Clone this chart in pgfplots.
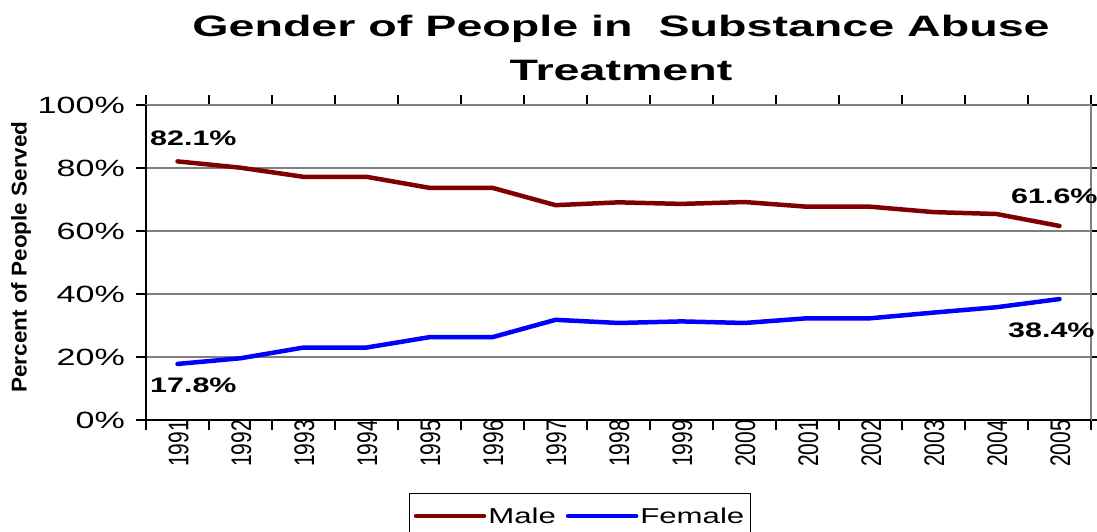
\documentclass[border=0pt]{standalone}
\usepackage{fontspec}
\usepackage{graphicx}
\usepackage{pgfplots}
\pgfplotsset{compat=1.18}
\setmainfont{Liberation Sans}[FakeStretch=1.45]
\newfontfamily\titlefont{Liberation Sans}[FakeStretch=1.58]
\newfontfamily\plainfont{Liberation Sans}
\definecolor{maleC}{HTML}{800000}
\definecolor{femaleC}{HTML}{0000FF}
\newcommand{\yr}[1]{\scalebox{1}[1.35]{#1}}
\begin{document}
\begin{tikzpicture}[x=1pt,y=1pt]
\useasboundingbox (0,0) rectangle (1097,531);
\node[anchor=base, inner sep=0] at (621,494) {\titlefont\bfseries\fontsize{29.5}{30}\selectfont Gender of People in\ \ Substance Abuse};
\node[anchor=base, inner sep=0] at (621,450) {\titlefont\bfseries\fontsize{29.5}{30}\selectfont Treatment};
\node[rotate=90, inner sep=0] at (21,274) {\scalebox{1}[0.95]{\plainfont\bfseries\fontsize{22.5}{25}\selectfont Percent of People Served}};
\begin{axis}[
  at={(146pt,111pt)}, anchor=south west,
  scale only axis, width=945pt, height=315pt,
  xmin=1990.5, xmax=2005.5, ymin=0, ymax=100,
  clip=false,
  tick align=outside,
  major tick length=10pt, minor tick length=10pt,
  xtick={1990.5,1991.5,...,2005.5}, xticklabels={},
  extra x ticks={1991,1992,...,2005},
  extra x tick labels={\yr{1991},\yr{1992},\yr{1993},\yr{1994},\yr{1995},\yr{1996},\yr{1997},\yr{1998},\yr{1999},\yr{2000},\yr{2001},\yr{2002},\yr{2003},\yr{2004},\yr{2005}},
  extra x tick style={major tick length=0pt, grid=none,
    xticklabel style={rotate=90, anchor=east, inner sep=0pt, yshift=-1pt,
      font=\plainfont\fontsize{21}{21}\selectfont}},
  ytick={0,20,...,100},
  yticklabel={\pgfmathprintnumber{\tick}\%},
  yticklabel style={font=\fontsize{23.5}{23.5}\selectfont, inner sep=0pt, xshift=-11pt},
  /pgf/number format/assume math mode=true,
  ymajorgrids, grid style={draw=gray, line width=1.2pt},
  axis line style={draw=gray, line width=1.2pt},
  tick style={black, line width=1.2pt},
  legend style={at={(0.4593,-0.2317)}, anchor=north, legend columns=2, draw=black, line width=1pt,
    font=\fontsize{21.5}{21.5}\selectfont, inner xsep=4pt, inner ysep=12pt,
    /tikz/every even column/.append style={column sep=8pt}},
  legend image code/.code={\draw[#1, line width=4.5pt, line cap=round] (0pt,0pt) -- (68pt,0pt);},
]
\addplot[maleC, line width=4.5pt, line cap=round, line join=round] coordinates {
(1991,82.1) (1992,80.1) (1993,77.2) (1994,77.2) (1995,73.7) (1996,73.7) (1997,68.2) (1998,69.1)
(1999,68.6) (2000,69.2) (2001,67.7) (2002,67.7) (2003,66.0) (2004,65.4) (2005,61.6)};
\addlegendentry{Male}
\addplot[femaleC, line width=4.5pt, line cap=round, line join=round] coordinates {
(1991,17.8) (1992,19.6) (1993,23.0) (1994,23.0) (1995,26.3) (1996,26.3) (1997,31.8) (1998,30.8)
(1999,31.3) (2000,30.8) (2001,32.3) (2002,32.3) (2003,34.1) (2004,35.8) (2005,38.4)};
\addlegendentry{Female}
\draw[black, line width=1.2pt] (rel axis cs:0,1) -- (rel axis cs:0,0) -- (rel axis cs:1,0);
\node[anchor=base west, inner sep=0, xshift=-27.5pt, yshift=16pt, font=\bfseries\fontsize{21}{21}\selectfont] at (axis cs:1991,82.1) {82.1\%};
\node[anchor=base west, inner sep=0, xshift=-27.5pt, yshift=-29pt, font=\bfseries\fontsize{21}{21}\selectfont] at (axis cs:1991,17.8) {17.8\%};
\node[anchor=base west, inner sep=0, xshift=-48.5pt, yshift=22pt, font=\bfseries\fontsize{21}{21}\selectfont] at (axis cs:2005,61.6) {61.6\%};
\node[anchor=base west, inner sep=0, xshift=-51.5pt, yshift=-38pt, font=\bfseries\fontsize{21}{21}\selectfont] at (axis cs:2005,38.4) {38.4\%};
\end{axis}
\end{tikzpicture}
\end{document}
